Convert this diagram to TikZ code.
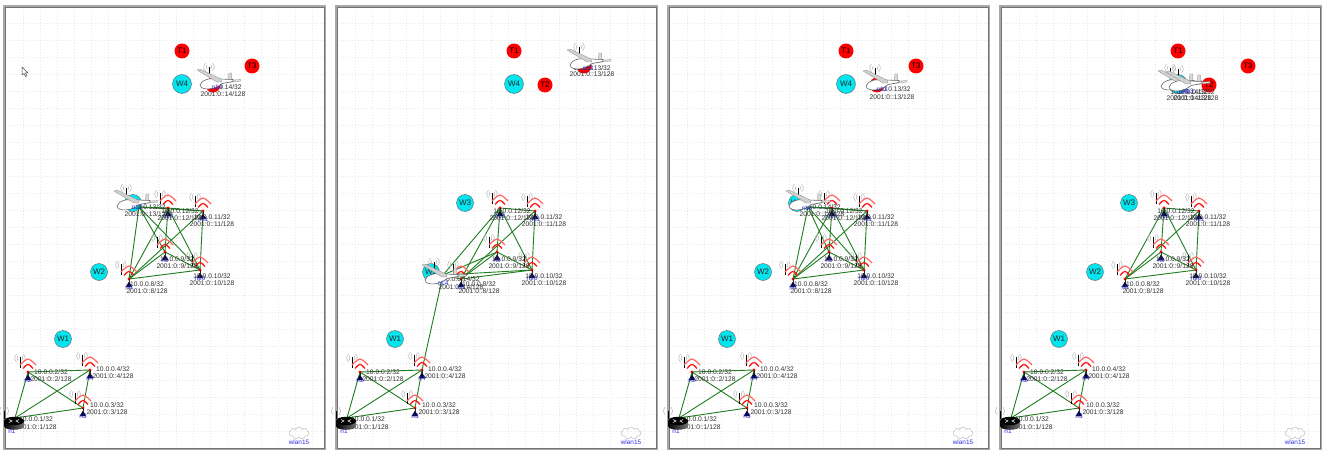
\documentclass[tikz,border=0pt]{standalone}
\usepackage{fontspec}
\setmainfont{Liberation Sans}
\usetikzlibrary{shapes.symbols}
\definecolor{linkg}{HTML}{1E7D1E}
\definecolor{framec}{HTML}{A8A8A8}
\definecolor{txt}{HTML}{303030}
\definecolor{cyanw}{HTML}{00E5EE}
\definecolor{bluel}{HTML}{3030E0}
\tikzset{
 x=1pt,y=-1pt,
 link/.style={draw=linkg,line width=.9pt},
 gridl/.style={draw=black!9,line width=.5pt,dash pattern=on .6pt off 2.4pt},
 wnode/.style={circle,draw=black!60,line width=.4pt,fill=cyanw,minimum size=17pt,inner sep=0pt,font=\fontsize{8}{9}\selectfont,text=black!85},
 tnode/.style={circle,fill=red,minimum size=15pt,inner sep=0pt,font=\fontsize{8}{9}\selectfont,text=black},
 addrtext/.style={inner sep=0pt,font=\fontsize{6.7}{7}\selectfont,text=txt},
 bluetext/.style={inner sep=0pt,font=\fontsize{6.4}{7}\selectfont,text=bluel},
 arcg/.style={draw=black!25,line width=.6pt},
}
\newcommand\nodewifi[4]{% prefix id x y
 \begin{scope}[shift={(#3,#4)}]
  \draw[arcg] (-11.5,-18) .. controls (-14,-14) .. (-11.5,-10);
  \draw[arcg] (-4.5,-18) .. controls (-2,-14) .. (-4.5,-10);
  \draw[arcg] (-10,-16.5) .. controls (-11.2,-14) .. (-10,-11.5);
  \draw[arcg] (-6,-16.5) .. controls (-4.8,-14) .. (-6,-11.5);
  \draw[black,line width=1pt] (-8,-15) -- (-8,-4);
  \draw[red!60,line width=1.2pt] (-8,-7) .. controls (0,-15) .. (8,-7);
  \draw[red!90,line width=1.3pt] (-5,-3.5) .. controls (0,-9) .. (5,-3.5);
  \fill[red] (0,0) circle (1.6);
  \draw[black!85,line width=.7pt] (0,0) -- (0,3);
  \draw[fill=black!70!blue,draw=black,line width=.4pt] (0,3) -- (-3,8) -- (3,8) -- cycle;
  \node[bluetext] (#1l#2) at (0,8) {n#2};
 \end{scope}}
\newcommand\addr[5]{% prefix id x y1 y2
 \node[addrtext] (#1ta#2) at (#3,#4) {10.0.0.#2/32};
 \node[addrtext] (#1tb#2) at (#3,#5) {2001:0::#2/128};}
\newcommand\plane[5]{% prefix id cx cy bluelabel-offset
 \begin{scope}[shift={(#3,#4)}]
  \draw[arcg] (-13.5,-17) .. controls (-16,-13) .. (-13.5,-9);
  \draw[arcg] (-6.5,-17) .. controls (-4,-13) .. (-6.5,-9);
  \draw[arcg] (-12,-15) .. controls (-13,-13) .. (-12,-11);
  \draw[arcg] (-8,-15) .. controls (-7,-13) .. (-8,-11);
  \draw[black,line width=1pt] (-10,-13) -- (-10,-6);
  \draw[draw=black!45,fill=black!15,line width=.3pt] (9,1) -- (10,-7) -- (12.5,-7) -- (13,1) -- cycle;
  \draw[draw=black!45,fill=black!12,line width=.3pt] (2,1) -- (22,-.5) -- (22,1) -- (4,3) -- cycle;
  \draw[draw=black!60,fill=white,line width=.6pt] (-19,5) .. controls (-17,-1) and (-9,-2) .. (0,-1) -- (14,-.5) -- (14,1.5) -- (3,3.5) .. controls (-4,10) and (-18,11) .. (-19,5) -- cycle;
  \draw[draw=black!45,fill=black!18,line width=.3pt] (-22,-10) -- (-19,-11) -- (2,-1) -- (3,2) -- (-2,2) -- cycle;
  \node[bluetext] (#1l#2) at (#5) {n#2};
 \end{scope}}
\newcommand\panelbg[1]{%
 \fill[white] (5,7) rectangle (324,448);
 \foreach \i in {1,...,18} \draw[gridl] (6+17*\i,7) -- (6+17*\i,448);
 \foreach \i in {1,...,25} \draw[gridl] (5,6.6+17*\i) -- (324,6.6+17*\i);
 \draw[framec,line width=2.2pt] (4.5,6) rectangle (325,449);
 \draw[black!55,line width=.4pt] (5.6,7.1) rectangle (323.9,447.9);
 \node[wnode] (#1W1) at (63,339) {W1};
 \node[wnode] (#1W2) at (99,272) {W2};
 \node[wnode] (#1W3) at (133,203) {W3};
 \node[wnode,minimum size=19pt] (#1W4) at (182,84) {W4};
 \node[tnode] (#1T1) at (182,51) {T1};
 \node[tnode] (#1T2) at (213,85) {T2};
 \node[tnode] (#1T3) at (252,66) {T3};
 \foreach \i/\x/\y in {1/15/418,2/28/372,3/83/408,4/90/370,8/129/279,9/165/252,10/200/270,11/203/211,12/168/208}
  \coordinate (#1n\i) at (\x,\y);
 \foreach \a/\b in {1/2,1/3,1/4,2/3,2/4,3/4,12/11,12/9,12/10,12/8,11/10,11/8,9/10,9/8,8/10}
  \draw[link] (#1n\a) -- (#1n\b);
}
\newcommand\panelfg[1]{%
 \foreach \i/\x/\y in {2/28/372,3/83/408,4/90/370,8/129/279,9/165/252,10/200/270,11/203/211,12/168/208}
  \nodewifi{#1}{\i}{\x}{\y};
 \addr{#1}{1}{36}{419}{427}
 \addr{#1}{2}{51}{372}{379}
 \addr{#1}{3}{107}{405}{412}
 \addr{#1}{4}{113}{369}{376}
 \addr{#1}{8}{147}{284}{291}
 \addr{#1}{9}{177}{259}{266}
 \addr{#1}{10}{212}{276}{283}
 \addr{#1}{11}{212}{217}{224}
 \addr{#1}{12}{180}{211}{218}
 % router n1
 \draw[arcg] (1,407) .. controls (-1,411) .. (1,415);
 \draw[arcg] (7,407) .. controls (9,411) .. (7,415);
 \draw[black,line width=1pt] (4,411) -- (4,419);
 \shade[left color=black,right color=black!55,draw=none] (4,421) -- (4,426) .. controls (4,431) and (24,431) .. (24,426) -- (24,421) -- cycle;
 \fill[black] (14,421) ellipse (10 and 4.2);
 \draw[white,line width=.5pt] (9,419.5) -- (12,421) -- (9,422.5) (19,419.5) -- (16,421) -- (19,422.5);
 \node[bluetext] (#1l1) at (12,431) {n1};
 % wlan cloud
 \node[cloud,cloud puffs=9,aspect=1.6,draw=black!25,line width=.5pt,minimum width=20pt,minimum height=12pt,inner sep=0pt] (#1cloud) at (299,433) {};
 \node[bluetext] (#1wlan) at (299,442) {wlan15};
}
\begin{document}
\begin{tikzpicture}
\useasboundingbox (0,0) rectangle (1325,452);
\fill[white] (0,0) rectangle (1325,452);
% panel 1
\begin{scope}
 \panelbg{a}
 \coordinate (an13) at (139,207);
 \foreach \e in {12,11,9,10,8} \draw[link] (an13) -- (an\e);
 \panelfg{a}
 \addr{a}{13}{147}{207}{214}
 \addr{a}{14}{223}{87}{94}
 \plane{a}{13}{136}{201}{1,6}
 \plane{a}{14}{219}{80}{-2,7}
 \draw[draw=black!70,fill=white,line width=.5pt] (22,67) -- (22,75) -- (24,73.5) -- (25.5,76.5) -- (27,75.8) -- (25.5,73) -- (28,73) -- cycle;
\end{scope}
% panel 2
\begin{scope}[xshift=332pt]
 \panelbg{b}
 \coordinate (bn14) at (111,275);
 \foreach \e in {12,9,10,8,4} \draw[link] (bn14) -- (bn\e);
 \panelfg{b}
 \addr{b}{14}{129}{279}{287}
 \addr{b}{13}{260}{68}{74}
 \plane{b}{14}{112}{275}{-1,8}
 \plane{b}{13}{257}{60}{-1,8}
\end{scope}
% panel 3
\begin{scope}[xshift=664pt]
 \panelbg{c}
 \coordinate (cn14) at (144,207);
 \foreach \e in {12,11,9,10,8} \draw[link] (cn14) -- (cn\e);
 \panelfg{c}
 \addr{c}{14}{158}{207}{214}
 \addr{c}{13}{228}{89}{97}
 \plane{c}{14}{144}{201}{-1,7}
 \plane{c}{13}{221}{81}{-3,8}
\end{scope}
% panel 4
\begin{scope}[xshift=996pt]
 \panelbg{d}
 \panelfg{d}
 \addr{d}{14}{193}{92}{98}
 \addr{d}{13}{200}{92}{98}
 \plane{d}{14}{184}{81}{2,10}
 \plane{d}{13}{192}{82}{0,9}
\end{scope}
\end{tikzpicture}
\end{document}
